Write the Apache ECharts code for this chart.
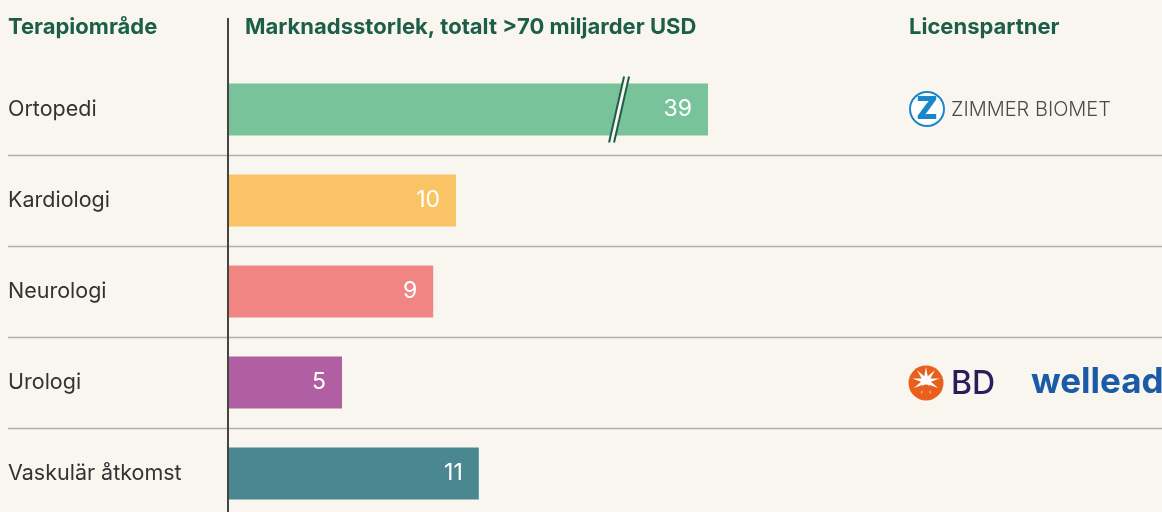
<!DOCTYPE html>
<html>
<head>
<meta charset="utf-8">
<script src="https://cdn.jsdelivr.net/npm/echarts@6.0.0/dist/echarts.min.js"></script>
<style>
  html, body { margin: 0; padding: 0; background: #f9f6f0; }
  #chart { width: 1162px; height: 512px; }
</style>
</head>
<body>
<div id="chart"></div>
<script>
// data
const categories = ["Ortopedi", "Kardiologi", "Neurologi", "Urologi", "Vaskulär åtkomst"];
const marketSize = [39, 10, 9, 5, 11];
const barColors = ["#78c39a", "#fac366", "#f08583", "#b05fa3", "#4a8790"];
const headers = ["Terapiområde", "Marknadsstorlek, totalt >70 miljarder USD", "Licenspartner"];
// axis break for the long bar (Ortopedi)
const breakStart = 16.8;
const breakEnd = 35.45;

const green = "#1c5e48";
const font = "Inter";

const myChart = echarts.init(document.getElementById("chart"));

const option = {
  backgroundColor: "#f9f6f0",
  animation: false,
  textStyle: { fontFamily: font },
  grid: [
    // separator rows across whole width
    { left: 8, right: 0, top: 64, height: 455, outerBoundsMode: "none", containLabel: false },
    // bars
    { left: 228, right: 454, top: 64, height: 455, outerBoundsMode: "none", containLabel: false }
  ],
  xAxis: [
    { gridIndex: 0, type: "value", show: false },
    {
      gridIndex: 1,
      type: "value",
      min: 0,
      max: 39,
      breaks: [{ start: breakStart, end: breakEnd, gap: "3.33%" }],
      breakArea: { show: false },
      axisLine: { show: false },
      axisTick: { show: false },
      axisLabel: { show: false },
      splitLine: { show: false }
    }
  ],
  yAxis: [
    {
      gridIndex: 0,
      type: "category",
      inverse: true,
      data: categories,
      axisLine: { show: false },
      axisTick: { show: false },
      axisLabel: { show: false },
      splitLine: {
        show: true,
        showMinLine: false,
        showMaxLine: false,
        lineStyle: { color: "#b3afa8", width: 1.3 }
      }
    },
    {
      gridIndex: 1,
      type: "category",
      inverse: true,
      data: categories,
      axisLine: { show: false },
      axisTick: { show: false },
      axisLabel: {
        align: "left",
        margin: 220,
        fontSize: 21.5,
        color: "#333333",
        fontFamily: font
      }
    }
  ],
  series: [
    {
      type: "bar",
      xAxisIndex: 1,
      yAxisIndex: 1,
      barWidth: 52,
      data: marketSize.map((v, i) => ({ value: v, itemStyle: { color: barColors[i] } })),
      label: {
        show: true,
        position: "insideRight",
        distance: 16,
        color: "#ffffff",
        fontSize: 23,
        fontFamily: font
      },
      z: 2
    },
    {
      // slash mark over the broken bar
      type: "custom",
      xAxisIndex: 1,
      yAxisIndex: 1,
      data: [[breakStart, categories[0]]],
      z: 5,
      renderItem: (params, api) => {
        const p0 = api.coord([breakStart, api.value(1)]);
        const p1 = api.coord([breakEnd, api.value(1)]);
        const xm = (p0[0] + p1[0]) / 2;
        const yc = p0[1];
        const lineStyle = { stroke: green, lineWidth: 2 };
        return {
          type: "group",
          children: [
            {
              type: "polygon",
              shape: { points: [[xm - 10, yc + 33], [xm + 5, yc - 33], [xm + 10, yc - 33], [xm - 5, yc + 33]] },
              style: { fill: "#f9f6f0" }
            },
            { type: "line", shape: { x1: xm - 10, y1: yc + 33, x2: xm + 5, y2: yc - 33 }, style: lineStyle },
            { type: "line", shape: { x1: xm - 5, y1: yc + 33, x2: xm + 10, y2: yc - 33 }, style: lineStyle }
          ]
        };
      }
    }
  ],
  graphic: [
    // vertical axis line
    { type: "line", shape: { x1: 228, y1: 18, x2: 228, y2: 512 }, style: { stroke: "#444444", lineWidth: 2 }, z: 10 },
    // headers
    { type: "text", left: 8, top: 16, style: { text: headers[0], fill: green, font: "bold 22px " + font } },
    { type: "text", left: 245, top: 16, style: { text: headers[1], fill: green, font: "bold 22px " + font } },
    { type: "text", left: 909, top: 16, style: { text: headers[2], fill: green, font: "bold 22px " + font } },
    // Zimmer Biomet logo
    { type: "circle", shape: { cx: 927, cy: 109, r: 17 }, style: { fill: "#ffffff", stroke: "#1b87c8", lineWidth: 2 } },
    { type: "text", x: 927, y: 110, style: { text: "Z", fill: "#1b87c8", font: "900 31px " + font, align: "center", verticalAlign: "middle" } },
    { type: "text", x: 951, y: 110, style: { text: "ZIMMER BIOMET", fill: "#4a4a4a", font: "300 20px " + font, verticalAlign: "middle" } },
    // BD logo
    { type: "circle", shape: { cx: 926, cy: 383, r: 17.5 }, style: { fill: "#e8601c" } },
    {
      type: "polygon",
      shape: {
        points: (() => {
          const pts = [];
          for (let i = 0; i < 18; i++) {
            const a = (Math.PI * 2 * i) / 18 - Math.PI / 2;
            const r = i % 2 === 0 ? 14 : 5;
            pts.push([926 + r * Math.cos(a), 381 + r * Math.sin(a)]);
          }
          return pts;
        })()
      },
      style: { fill: "#ffffff" }
    },
    { type: "circle", shape: { cx: 926, cy: 389, r: 4.5 }, style: { fill: "#e8601c" } },
    { type: "text", x: 951, y: 384, style: { text: "BD", fill: "#2c1c5c", font: "500 32px " + font, verticalAlign: "middle" } },
    { type: "text", x: 1031, y: 382, style: { text: "wellead", fill: "#1b5aa6", font: "bold 35px " + font, verticalAlign: "middle" } }
  ]
};

myChart.setOption(option);
</script>
</body>
</html>
